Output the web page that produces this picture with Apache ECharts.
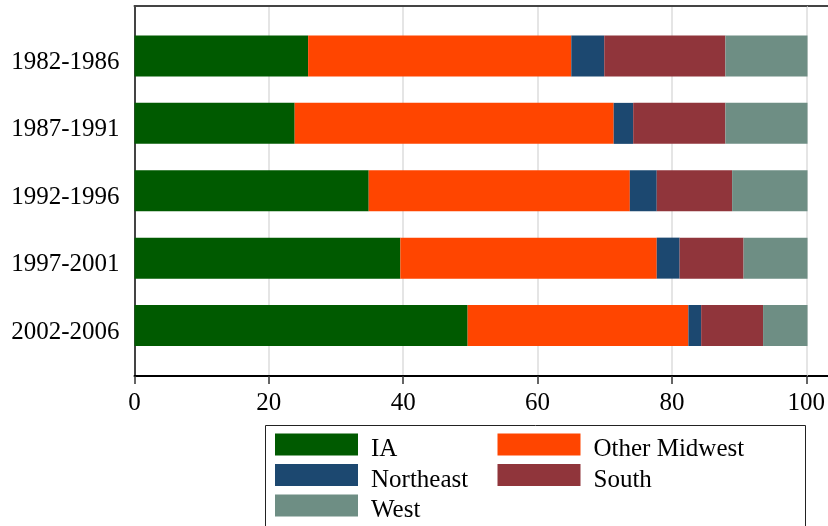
<!DOCTYPE html>
<html>
<head>
<meta charset="utf-8">
<script src="https://cdn.jsdelivr.net/npm/echarts@6/dist/echarts.min.js"></script>
<style>html,body{margin:0;padding:0;background:#fff}#c{width:828px;height:526px}</style>
</head>
<body>
<div id="c"></div>
<script>
const categories = ['1982-1986', '1987-1991', '1992-1996', '1997-2001', '2002-2006'];
const seriesNames = ['IA', 'Other Midwest', 'Northeast', 'South', 'West'];
const IA = [25.8, 23.8, 34.8, 39.5, 49.5];
const otherMidwest = [39.1, 47.4, 38.8, 38.1, 32.8];
const northeast = [4.9, 2.9, 4.0, 3.4, 1.9];
const south = [18.0, 13.7, 11.2, 9.5, 9.2];
const west = [12.2, 12.2, 11.2, 9.5, 6.6];

const colors = ['#005a00', '#ff4500', '#1c4870', '#90353b', '#6e8e84'];
const values = [IA, otherMidwest, northeast, south, west];
const FONT = 'Liberation Serif';

// legend slot positions (column, row) for each series, in series order
const legendSlots = [[0, 0], [1, 0], [0, 1], [1, 1], [0, 2]];
const legendColX = [275, 497.5];
const legendRowY = [427, 457.5, 488];

const chart = echarts.init(document.getElementById('c'), null, {renderer: 'canvas'});
chart.setOption({
  animation: false,
  backgroundColor: '#fff',
  grid: [
    {left: 134.5, right: 20.5, top: 6, bottom: 150},
    {left: 134.5, right: 20.5, top: 22.3, bottom: 166.8}
  ],
  xAxis: [
    {gridIndex: 0, type: 'value', min: 0, max: 100, interval: 20, position: 'bottom',
     axisLine: {show: true, onZero: false, lineStyle: {color: '#000', width: 2}},
     axisTick: {show: true, length: 8, lineStyle: {color: '#333', width: 1.5}},
     axisLabel: {show: true, fontSize: 25, fontFamily: FONT, color: '#000', margin: 15},
     splitLine: {show: true, showMinLine: false, lineStyle: {color: '#dddddd', width: 1.5}}},
    {gridIndex: 1, type: 'value', min: 0, max: 100, show: false},
    {gridIndex: 0, type: 'value', min: 0, max: 100, position: 'top',
     axisLine: {show: true, onZero: false, lineStyle: {color: '#444', width: 2}},
     axisTick: {show: false}, axisLabel: {show: false}, splitLine: {show: false}}
  ],
  yAxis: [
    {gridIndex: 0, type: 'value', min: 0, max: 1,
     axisLine: {show: true, onZero: false, lineStyle: {color: '#444', width: 2}},
     axisTick: {show: false}, axisLabel: {show: false}, splitLine: {show: false}},
    {gridIndex: 1, type: 'category', data: categories, inverse: true,
     axisLine: {show: false}, axisTick: {show: false},
     axisLabel: {margin: 15,
       formatter: v => '{a|' + v + '}',
       rich: {a: {fontSize: 25, fontFamily: FONT, color: '#000', padding: [13, 0, 0, 0]}}}}
  ],
  legend: seriesNames.map((n, i) => ({
    data: [n], orient: 'horizontal',
    left: legendColX[legendSlots[i][0]], top: legendRowY[legendSlots[i][1]], padding: 0,
    icon: 'rect', itemWidth: 83, itemHeight: 22,
    formatter: name => '{a|' + name + '}',
    textStyle: {fontSize: 25, fontFamily: FONT, color: '#000', padding: [0, 0, 0, 8],
      rich: {a: {fontSize: 25, fontFamily: FONT, color: '#000', lineHeight: 22, padding: [10, 0, 0, 0]}}}
  })),
  graphic: [
    {type: 'rect', shape: {x: 265.5, y: 425.5, width: 540, height: 120},
     style: {fill: 'none', stroke: '#222', lineWidth: 1}, silent: true, z: -1},
    {type: 'line', shape: {x1: 806, y1: 376, x2: 828, y2: 376},
     style: {stroke: '#000', lineWidth: 2}, silent: true},
    {type: 'line', shape: {x1: 806, y1: 6, x2: 828, y2: 6},
     style: {stroke: '#444', lineWidth: 2}, silent: true}
  ],
  series: seriesNames.map((n, i) => ({
    name: n, type: 'bar', stack: 'total', xAxisIndex: 1, yAxisIndex: 1,
    barWidth: 41, data: values[i], itemStyle: {color: colors[i]}
  }))
});
</script>
</body>
</html>
